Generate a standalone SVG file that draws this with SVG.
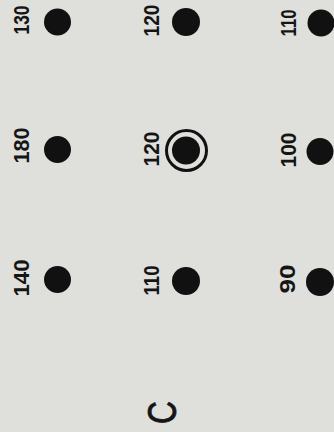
<svg xmlns="http://www.w3.org/2000/svg" width="334" height="432" viewBox="0 0 334 432">
<style>
.lbl{font-family:"Liberation Sans",Arial,sans-serif;font-size:22px;font-weight:bold;fill:#151515;text-anchor:middle}
.dot{fill:#111}
.ring{fill:none;stroke:#111;stroke-width:3}
.big{font-family:"Liberation Sans",Arial,sans-serif;font-size:40px;fill:#151515;stroke:#151515;stroke-width:0.8;text-anchor:middle}
</style>
<rect width="334" height="432" fill="#dfe0db"/>
<g id="n130"><circle class="dot" cx="57.5" cy="22" r="13.5"/><text class="lbl" transform="translate(21,20) rotate(-90)" y="8" textLength="29" lengthAdjust="spacingAndGlyphs">130</text></g>
<g id="n120a"><circle class="dot" cx="186" cy="22" r="14"/><text class="lbl" transform="translate(151,20.5) rotate(-90)" y="8" textLength="32" lengthAdjust="spacingAndGlyphs">120</text></g>
<g id="n110a"><circle class="dot" cx="321" cy="23" r="13.5"/><text class="lbl" transform="translate(287.5,23) rotate(-90)" y="8" textLength="27" lengthAdjust="spacingAndGlyphs">110</text></g>
<g id="n180"><circle class="dot" cx="57.5" cy="149.5" r="13.5"/><text class="lbl" transform="translate(21,145.5) rotate(-90)" y="8" textLength="36" lengthAdjust="spacingAndGlyphs">180</text></g>
<g id="n120b"><circle class="ring" cx="186.5" cy="150.5" r="20"/><circle class="dot" cx="186" cy="150.5" r="14"/><text class="lbl" transform="translate(151,149) rotate(-90)" y="8" textLength="35" lengthAdjust="spacingAndGlyphs">120</text></g>
<g id="n100"><circle class="dot" cx="320" cy="151.5" r="13.5"/><text class="lbl" transform="translate(287.5,150) rotate(-90)" y="8" textLength="35" lengthAdjust="spacingAndGlyphs">100</text></g>
<g id="n140"><circle class="dot" cx="57.5" cy="279.5" r="13.5"/><text class="lbl" transform="translate(21,278) rotate(-90)" y="8" textLength="37" lengthAdjust="spacingAndGlyphs">140</text></g>
<g id="n110b"><circle class="dot" cx="186" cy="281" r="14"/><text class="lbl" transform="translate(150.5,280.5) rotate(-90)" y="8" textLength="30" lengthAdjust="spacingAndGlyphs">110</text></g>
<g id="n90"><circle class="dot" cx="320" cy="282" r="14"/><text class="lbl" transform="translate(287,279) rotate(-90)" y="8" textLength="29" lengthAdjust="spacingAndGlyphs">90</text></g>
<g id="connectors"/>
<g id="label-c"><text class="big" transform="translate(161.5,412.5) rotate(-90)" y="14.5" textLength="23" lengthAdjust="spacingAndGlyphs">C</text></g>
</svg>
